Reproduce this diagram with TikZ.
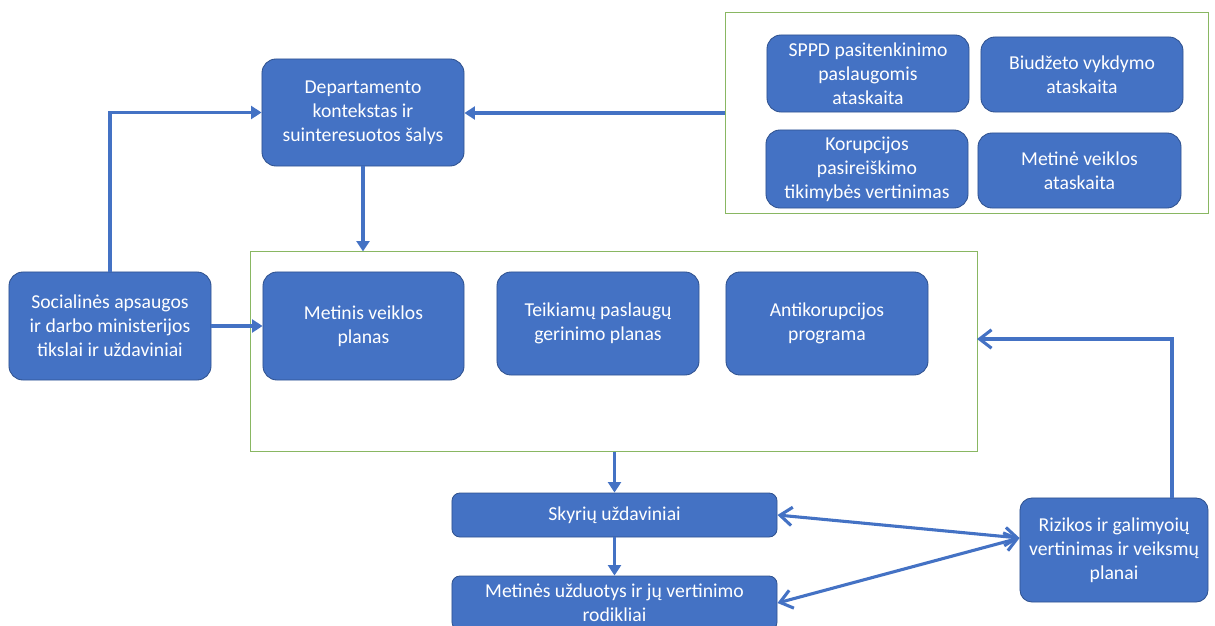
\documentclass[tikz,border=0pt]{standalone}
\usepackage{fontspec}
\setmainfont{Carlito}
\usetikzlibrary{arrows.meta}

\definecolor{boxblue}{RGB}{68,114,196}
\definecolor{boxline}{RGB}{47,82,143}
\definecolor{framegreen}{RGB}{137,183,98}

\tikzset{
	blok/.style={draw=boxline,line width=0.6pt,fill=boxblue,text=white,rounded corners=0.35cm,
		inner sep=0pt,align=center,font=\fontsize{14}{17}\selectfont},
	remas/.style={draw=framegreen,line width=0.7pt,inner sep=0pt},
	rodykle/.style={draw=boxblue,line width=2.2pt,-{Triangle[length=2.6mm,width=3.2mm]}},
	barbas/.style={draw=boxblue,line width=2.2pt,-{Straight Barb[length=3mm,width=4.6mm]}},
	dvibarbas/.style={draw=boxblue,line width=2.2pt,{Straight Barb[length=3mm,width=4.6mm]}-{Straight Barb[length=3mm,width=4.6mm]}}
}

\begin{document}
\begin{tikzpicture}[x=0.025cm,y=-0.025cm]
		\useasboundingbox (0,0) rectangle (1215,625);
		% remai
		\node[remas,minimum width=12.05cm,minimum height=5cm] (virs) at (967,113) {};
		\node[remas,minimum width=18.15cm,minimum height=4.975cm] (vid) at (614,351.5) {};
		% ataskaitos
		\node[blok,minimum width=5.05cm,minimum height=1.925cm] (sppd) at (868,73.5) {SPPD pasitenkinimo\\paslaugomis\\ataskaita};
		\node[blok,minimum width=5.05cm,minimum height=1.875cm] (biud) at (1082,74.5) {Biudžeto vykdymo\\ataskaita};
		\node[blok,minimum width=5.05cm,minimum height=1.95cm] (koru) at (867,169) {Korupcijos\\pasireiškimo\\tikimybės vertinimas};
		\node[blok,minimum width=5.075cm,minimum height=1.875cm] (metat) at (1079.5,170.5) {Metinė veiklos\\ataskaita};
		% kairė
		\node[blok,minimum width=5.05cm,minimum height=2.675cm] (dep) at (363,112.5) {Departamento\\kontekstas ir\\suinteresuotos šalys};
		\node[blok,minimum width=5.05cm,minimum height=2.7cm] (soc) at (110,326) {Socialinės apsaugos\\ir darbo ministerijos\\tikslai ir uždaviniai};
		% planai
		\node[blok,minimum width=5.025cm,minimum height=2.7cm] (mvp) at (363.5,326) {Metinis veiklos\\planas};
		\node[blok,minimum width=5.05cm,minimum height=2.575cm] (teik) at (598,323.5) {Teikiamų paslaugų\\gerinimo planas};
		\node[blok,minimum width=5.05cm,minimum height=2.575cm] (anti) at (827,323.5) {Antikorupcijos\\programa};
		% apačia
		\node[blok,rounded corners=0.2cm,minimum width=8.125cm,minimum height=1.1cm] (sky) at (614.5,515) {Skyrių uždaviniai};
		\node[blok,rounded corners=0.2cm,minimum width=8.125cm,minimum height=1.35cm] (mud) at (614.5,603) {Metinės užduotys ir jų vertinimo\\rodikliai};
		\node[blok,rounded corners=0.3cm,minimum width=4.7cm,minimum height=2.6cm] (riz) at (1114,550) {Rizikos ir galimyoių\\vertinimas ir veiksmų\\planai};
		\coordinate (rizvirs) at (1172,498);
		\coordinate (vidin) at (977,339);
		% rodyklės
		\draw[rodykle] (virs.west) -- (virs.west -| dep.east);
		\draw[rodykle] (soc.north) |- (dep.west);
		\draw[rodykle] (soc.east) -- (mvp.west);
		\draw[rodykle] (dep.south) -- (vid.north -| dep.south);
		\draw[rodykle,line width=1.8pt] (vid.south -| sky.north) -- (sky.north);
		\draw[rodykle,line width=1.8pt] (sky.south) -- (mud.north);
		\draw[barbas] (rizvirs) |- (vidin);
		\draw[dvibarbas] (sky.east) -- ([yshift=0.3cm]riz.west);
		\draw[dvibarbas] (mud.east) -- ([yshift=0.3cm]riz.west);
	\end{tikzpicture}
\end{document}
